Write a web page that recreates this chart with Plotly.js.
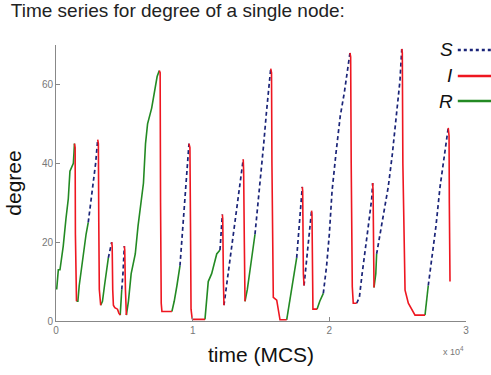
<!DOCTYPE html>
<html>
<head>
<meta charset="utf-8">
<script src="https://cdn.plot.ly/plotly-3.0.1.min.js"></script>
<style>html,body{margin:0;padding:0;background:#fff;}#chart{width:491px;height:375px;}</style>
</head>
<body>
<div id="chart"></div>
<script>
// Time in MCS, degree of the node. Segments separated by null.
// Susceptible (S) segments
const susT = [2360,2550,2750,2900,3050,null, 3830,3950,4075,null, 4810,4900,5000,null,
  9070,9300,9500,9730,null, 12000,12070,12170,null, 12290,12600,12900,13200,13500,13700,null,
  14560,14800,15000,15200,15400,15600,15710,null, 17610,17800,18020,null, 18150,18400,18700,null,
  19560,19800,20000,20200,20500,20800,21100,21300,21510,null,
  22000,22200,22400,22610,22850,23100,23170,null,
  23460,23700,24000,24310,24600,24900,25170,25300,null,
  27240,27500,27800,28100,28400,28700];
const susD = [25,30,36,40,46,null, 16,18,20,null, 8,12,19,null,
  14,24,34,45,null, 18,21,27,null, 4,12,20,28,36,41,null,
  22,30,38,45,53,60,64,null, 16,25,34,null, 9,18,28,null,
  7,14,22,33,43,52,58,63,68,null,
  4.5,6,12,17,24,31,35,null,
  17,22,28,34,42,52,61,69,null,
  9,16,24,34,41,49];
// Infected (I) segments
const infT = [1350,1400,1420,1450,1500,null, 3050,3100,3130,3170,3270,null,
  4075,4110,4150,4200,4300,4500,4600,4700,null, 5000,5030,5080,5150,null,
  7560,7620,7650,7680,7700,7750,8480,null, 9730,9800,9840,9880,9960,10000,10900,null,
  12170,12200,12250,12290,null, 13700,13730,13780,13830,null,
  15710,15770,15800,15900,16150,16390,16880,null, 18020,18050,18100,18150,null,
  18700,18730,18780,18800,19100,null, 21510,21560,21600,21680,21750,22000,null,
  23170,23200,23250,23270,null, 25300,25340,25380,25540,25780,26270,27000,null,
  28700,28760,28780,28830];
const infD = [45,44,22,8,5,null, 46,45,25,8,4,null,
  20,19,8,4,3.4,3,2,1.5,null, 19,18,8,1.5,null,
  63.5,63,30,8,4.5,2.4,2.4,null, 45,44,25,3,0.7,0.4,0.4,null,
  27,26,10,4,null, 41,38,20,5,null,
  64,63,40,6,5.3,0.3,0.3,null, 34,33,12,9,null,
  28,27,10,3,3,null, 68,67,40,8.7,4.5,4.5,null,
  35,33,15,8.5,null, 69,68,40,7.8,4.5,1.5,1.5,null,
  49,47,30,10];
// Recovered (R) segments
const recT = [50,170,290,530,730,900,1020,1270,1320,1350,null, 1500,1600,1700,1850,2000,2200,2360,null,
  3270,3400,3550,3700,3830,null, 4700,4760,4810,null,
  5150,5300,5500,5800,6000,6200,6400,6550,6700,7000,7200,7400,7560,null,
  8480,8650,8850,9070,null, 10900,11140,11390,11760,12000,null,
  13830,14000,14200,14400,14560,null, 16880,17100,17350,17610,null,
  19100,19300,19560,null, 23270,23400,23460,null, 27000,27100,27240];
const recD = [8,13,13,19,26,31,38,40,43,45,null, 5,5,9,13,17,22,25,null,
  4,5,9,13,16,null, 1.5,5,8,null,
  1.5,5,12,17,24,29,35,45,50,54,58,62,63.5,null,
  2.4,5,9,14,null, 0.4,10,12,17,18,null,
  5,8,13,18,22,null, 0.3,5,11,16,null,
  3,5,7,null, 8.5,12,17,null, 1.5,5,9];

const xTickVals = [0,10000,20000,30000];
const xTickText = ['0','1','2','3'];
const yTickVals = [0,20,40,60];
const legendLabels = ['S','I','R'];

const colS = '#1a2478', colI = '#ee1620', colR = '#238a23';

const traces = [
  {x: recT, y: recD, mode:'lines', name:'R', line:{color:colR, width:1.6}, connectgaps:false},
  {x: susT, y: susD, mode:'lines', name:'S', line:{color:colS, width:1.7, dash:'4px,3px'}, connectgaps:false},
  {x: infT, y: infD, mode:'lines', name:'I', line:{color:colI, width:1.6}, connectgaps:false}
];

const fam = '"Liberation Sans", Arial, sans-serif';
const legY = [0.982, 0.888, 0.797];
const legCol = [colS, colI, colR];
const legDash = ['dot','solid','solid'];

const annotations = legendLabels.map((s,i)=>({
  xref:'paper', yref:'paper', x:0.972, y:legY[i], xanchor:'right', yanchor:'middle',
  text:'<i>'+s+'</i>', showarrow:false, font:{family:fam, size:19, color:'#111'}
}));
annotations.push({xref:'paper', yref:'paper', x:1.0, y:-0.108, xanchor:'right', yanchor:'middle',
  text:'x 10<sup>4</sup>', showarrow:false, font:{family:fam, size:9, color:'#777'}});

const shapes = legendLabels.map((s,i)=>({
  type:'line', xref:'paper', yref:'paper', x0:0.98, x1:1.07, y0:legY[i], y1:legY[i],
  line:{color:legCol[i], width:2.5, dash:legDash[i]}
}));

const layout = {
  width:491, height:375,
  margin:{l:56, r:25, t:45, b:54},
  paper_bgcolor:'#fff', plot_bgcolor:'#fff',
  showlegend:false,
  title:{text:'Time series for degree of a single node:', x:0.022, xanchor:'left', y:0.972, yanchor:'middle',
    font:{family:fam, size:19, color:'#222'}},
  xaxis:{range:[0,30000], tickvals:xTickVals, ticktext:xTickText, ticks:'inside', ticklen:4,
    tickcolor:'#888', showline:true, linecolor:'#888', linewidth:1, showgrid:false, zeroline:false,
    tickfont:{family:fam, size:10, color:'#777'},
    title:{text:'time (MCS)', font:{family:fam, size:21, color:'#111'}, standoff:12}},
  yaxis:{range:[0,70], tickvals:yTickVals, ticks:'inside', ticklen:4,
    tickcolor:'#888', showline:true, linecolor:'#888', linewidth:1, showgrid:false, zeroline:false,
    tickfont:{family:fam, size:10, color:'#777'},
    title:{text:'degree', font:{family:fam, size:21, color:'#111'}, standoff:14}},
  annotations: annotations,
  shapes: shapes
};

Plotly.newPlot('chart', traces, layout, {displayModeBar:false, staticPlot:true});
</script>
</body>
</html>
